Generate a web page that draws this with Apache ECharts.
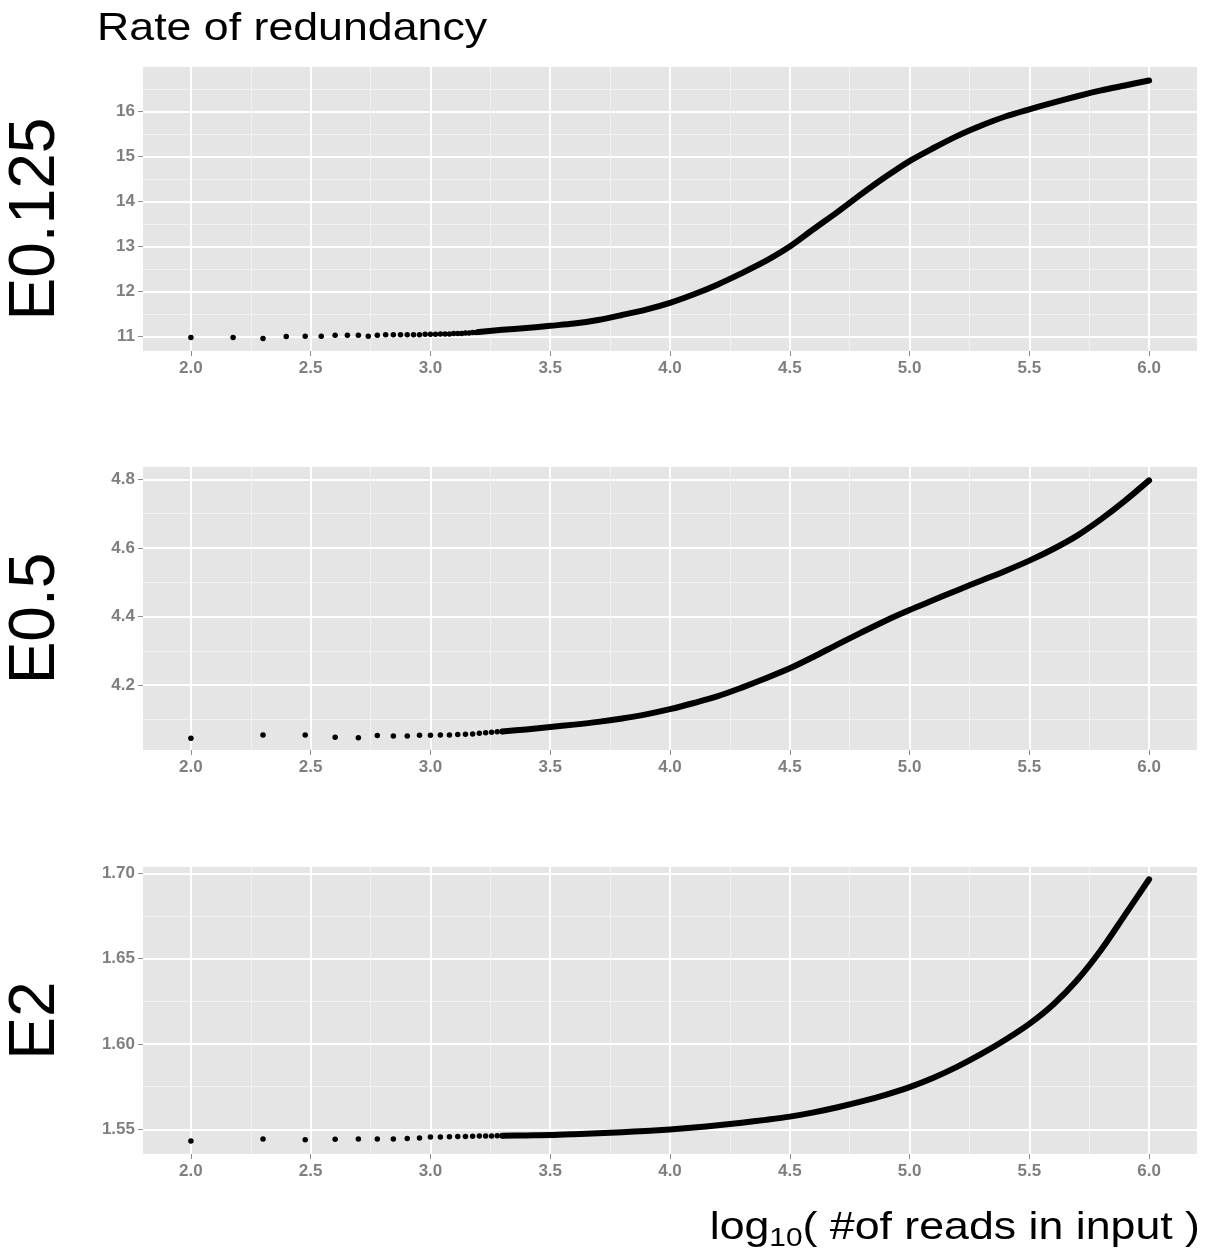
<!DOCTYPE html>
<html>
<head>
<meta charset="utf-8">
<title>Rate of redundancy</title>
<script src="https://cdn.jsdelivr.net/npm/echarts@6/dist/echarts.min.js"></script>
<style>
html, body { margin: 0; padding: 0; background: #fff; }
#main { width: 1211px; height: 1255px; }
</style>
</head>
<body>
<div id="main"></div>
<script>
// x axis (log10 of read counts)
var xTicks = [2.0, 2.5, 3.0, 3.5, 4.0, 4.5, 5.0, 5.5, 6.0];
var xMinor = [2.25, 2.75, 3.25, 3.75, 4.25, 4.75, 5.25, 5.75];

var panelNames = ['E0.125', 'E0.5', 'E2'];

// E0.125 : single points at small read counts, then the dense curve
var reads1 = [100, 150, 200, 250, 300, 350, 400, 450, 500, 550, 600, 650, 700, 750, 800, 850,
              900, 950, 1000, 1050, 1100, 1150, 1200, 1250, 1300, 1350, 1400, 1450, 1500, 1550, 1600];
var dots1 = [10.98, 10.98, 10.96, 11.00, 11.01, 11.01, 11.03, 11.03, 11.03, 11.01, 11.03, 11.04, 11.04, 11.04, 11.04, 11.04,
             11.04, 11.05, 11.05, 11.05, 11.06, 11.06, 11.06, 11.07, 11.07, 11.07, 11.08, 11.08, 11.09, 11.09, 11.10];
var curveX1 = [3.2, 3.3, 3.4, 3.5, 3.6, 3.7, 3.8, 3.9, 4.0, 4.1, 4.2, 4.3, 4.4, 4.5, 4.6, 4.7, 4.8, 4.9,
               5.0, 5.1, 5.2, 5.3, 5.4, 5.5, 5.6, 5.7, 5.8, 5.9, 6.0];
var curve1 = [11.10, 11.15, 11.19, 11.24, 11.29, 11.37, 11.48, 11.60, 11.75, 11.94, 12.16, 12.41, 12.68, 13.00, 13.39, 13.77, 14.17, 14.55,
              14.90, 15.19, 15.46, 15.69, 15.89, 16.05, 16.20, 16.34, 16.47, 16.58, 16.69];
var yTicks1 = [11, 12, 13, 14, 15, 16];
var yMinor1 = [11.5, 12.5, 13.5, 14.5, 15.5, 16.5];

// E0.5
var reads2 = [100, 200, 300, 400, 500, 600, 700, 800, 900, 1000, 1100, 1200, 1300, 1400, 1500, 1600, 1700, 1800, 1900, 2000];
var dots2 = [4.045, 4.055, 4.055, 4.048, 4.047, 4.053, 4.052, 4.052, 4.054, 4.054, 4.055, 4.055, 4.056, 4.057, 4.058, 4.060, 4.061, 4.063, 4.064, 4.065];
var curveX2 = [3.3, 3.4, 3.5, 3.6, 3.7, 3.8, 3.9, 4.0, 4.1, 4.2, 4.3, 4.4, 4.5, 4.6, 4.7, 4.8, 4.9,
               5.0, 5.1, 5.2, 5.3, 5.4, 5.5, 5.6, 5.7, 5.8, 5.9, 6.0];
var curve2 = [4.065, 4.071, 4.078, 4.085, 4.093, 4.103, 4.115, 4.130, 4.148, 4.168, 4.193, 4.220, 4.249, 4.283, 4.319, 4.354, 4.388,
              4.419, 4.448, 4.477, 4.505, 4.533, 4.563, 4.597, 4.636, 4.684, 4.738, 4.797];
var yTicks2 = [4.2, 4.4, 4.6, 4.8];
var yMinor2 = [4.1, 4.3, 4.5, 4.7];

// E2
var reads3 = [100, 200, 300, 400, 500, 600, 700, 800, 900, 1000, 1100, 1200, 1300, 1400, 1500, 1600, 1700, 1800, 1900, 2000];
var dots3 = [1.5432, 1.5444, 1.5440, 1.5442, 1.5444, 1.5444, 1.5444, 1.5447, 1.5449, 1.5455, 1.5456, 1.5457, 1.5458, 1.5459, 1.5460, 1.5461, 1.5462, 1.5462, 1.5463, 1.5463];
var curveX3 = [3.3, 3.4, 3.5, 3.6, 3.7, 3.8, 3.9, 4.0, 4.1, 4.2, 4.3, 4.4, 4.5, 4.6, 4.7, 4.8, 4.9,
               5.0, 5.1, 5.2, 5.3, 5.4, 5.5, 5.6, 5.7, 5.8, 5.9, 6.0];
var curve3 = [1.5463, 1.5465, 1.5467, 1.5472, 1.5478, 1.5484, 1.5491, 1.5500, 1.5511, 1.5524, 1.5539, 1.5556, 1.5575, 1.5600, 1.5630, 1.5664, 1.5703,
              1.5748, 1.5803, 1.5868, 1.5942, 1.6025, 1.6118, 1.6232, 1.6375, 1.6552, 1.6758, 1.6965];
var yTicks3 = [1.55, 1.60, 1.65, 1.70];
var yMinor3 = [1.575, 1.625, 1.675];

var FONT = '"Liberation Sans", Arial, sans-serif';
var chart = echarts.init(document.getElementById('main'));

var panels = [
    {reads: reads1, dots: dots1, cx: curveX1, cy: curve1, ticks: yTicks1, minor: yMinor1, min: 10.68, max: 16.99, top: 67, height: 284, digits: 0},
    {reads: reads2, dots: dots2, cx: curveX2, cy: curve2, ticks: yTicks2, minor: yMinor2, min: 4.011, max: 4.836, top: 467, height: 283, digits: 1},
    {reads: reads3, dots: dots3, cx: curveX3, cy: curve3, ticks: yTicks3, minor: yMinor3, min: 1.5356, max: 1.7037, top: 867, height: 287, digits: 2}
];

var grids = [], xAxes = [], yAxes = [], series = [], graphics = [];

panels.forEach(function (p, i) {
    grids.push({left: 143, right: 14, top: p.top, height: p.height, show: true,
        backgroundColor: '#e5e5e5', borderWidth: 0, containLabel: false, outerBoundsMode: 'none'});

    // minor grid lines first, then the major axis on top
    xAxes.push({gridIndex: i, type: 'value', position: 'bottom', offset: 0, min: 1.8, max: 6.2,
        axisLine: {show: false}, axisLabel: {show: false},
        axisTick: {show: false, customValues: xMinor},
        splitLine: {show: true, lineStyle: {color: '#f2f2f2', width: 1}}});
    xAxes.push({gridIndex: i, type: 'value', position: 'bottom', offset: 0, min: 1.8, max: 6.2,
        axisLine: {show: false},
        axisTick: {show: true, length: 5, customValues: xTicks, lineStyle: {color: '#8c8c8c'}},
        axisLabel: {customValues: xTicks, margin: 9, color: '#7f7f7f', fontSize: 17, fontWeight: 'bold', fontFamily: FONT,
            formatter: function (v) { return v.toFixed(1); }},
        splitLine: {show: true, lineStyle: {color: '#ffffff', width: 2}}});

    yAxes.push({gridIndex: i, type: 'value', position: 'left', offset: 0, min: p.min, max: p.max,
        axisLine: {show: false}, axisLabel: {show: false},
        axisTick: {show: false, customValues: p.minor},
        splitLine: {show: true, lineStyle: {color: '#f2f2f2', width: 1}}});
    yAxes.push({gridIndex: i, type: 'value', position: 'left', offset: 0, min: p.min, max: p.max,
        axisLine: {show: false},
        axisTick: {show: true, length: 5, customValues: p.ticks, lineStyle: {color: '#8c8c8c'}},
        axisLabel: {customValues: p.ticks, margin: 8, color: '#7f7f7f', fontSize: 17, fontWeight: 'bold', fontFamily: FONT,
            formatter: (function (d) { return function (v) { return v.toFixed(d); }; })(p.digits)},
        splitLine: {show: true, lineStyle: {color: '#ffffff', width: 2}}});

    var pts = p.reads.map(function (n, k) { return [Math.log10(n), p.dots[k]]; });
    var line = p.cx.map(function (x, k) { return [x, p.cy[k]]; });

    series.push({type: 'line', xAxisIndex: 2 * i + 1, yAxisIndex: 2 * i + 1, data: line,
        showSymbol: false, smooth: 0.3,
        lineStyle: {color: '#000', width: 6, cap: 'round', join: 'round'}, silent: true});
    series.push({type: 'scatter', xAxisIndex: 2 * i + 1, yAxisIndex: 2 * i + 1, data: pts,
        symbol: 'circle', symbolSize: 5.5, itemStyle: {color: '#000', opacity: 1}, silent: true});

    // facet label on the left
    graphics.push({type: 'text', x: 36, y: p.top + p.height / 2 + 10, rotation: Math.PI / 2,
        style: {text: panelNames[i], fontSize: 64, fontFamily: FONT, fill: '#000', align: 'center', verticalAlign: 'middle'}});
});

graphics.push({type: 'text', x: 97, y: 29, scaleX: 1.146,
    style: {text: 'Rate of redundancy', fontSize: 39, fontFamily: FONT, fill: '#000', align: 'left', verticalAlign: 'middle'}});
graphics.push({type: 'text', x: 1200, y: 1228, scaleX: 1.146,
    style: {text: '{a|log}{s|10}{a|( #of reads in input )}', fontFamily: FONT, fill: '#000',
        align: 'right', verticalAlign: 'middle',
        rich: {
            a: {fontSize: 39, lineHeight: 48, fontFamily: FONT, verticalAlign: 'middle'},
            s: {fontSize: 26, lineHeight: 26, fontFamily: FONT, verticalAlign: 'bottom'}
        }}});

chart.setOption({
    animation: false,
    backgroundColor: '#fff',
    grid: grids,
    xAxis: xAxes,
    yAxis: yAxes,
    series: series,
    graphic: graphics
});
</script>
</body>
</html>
